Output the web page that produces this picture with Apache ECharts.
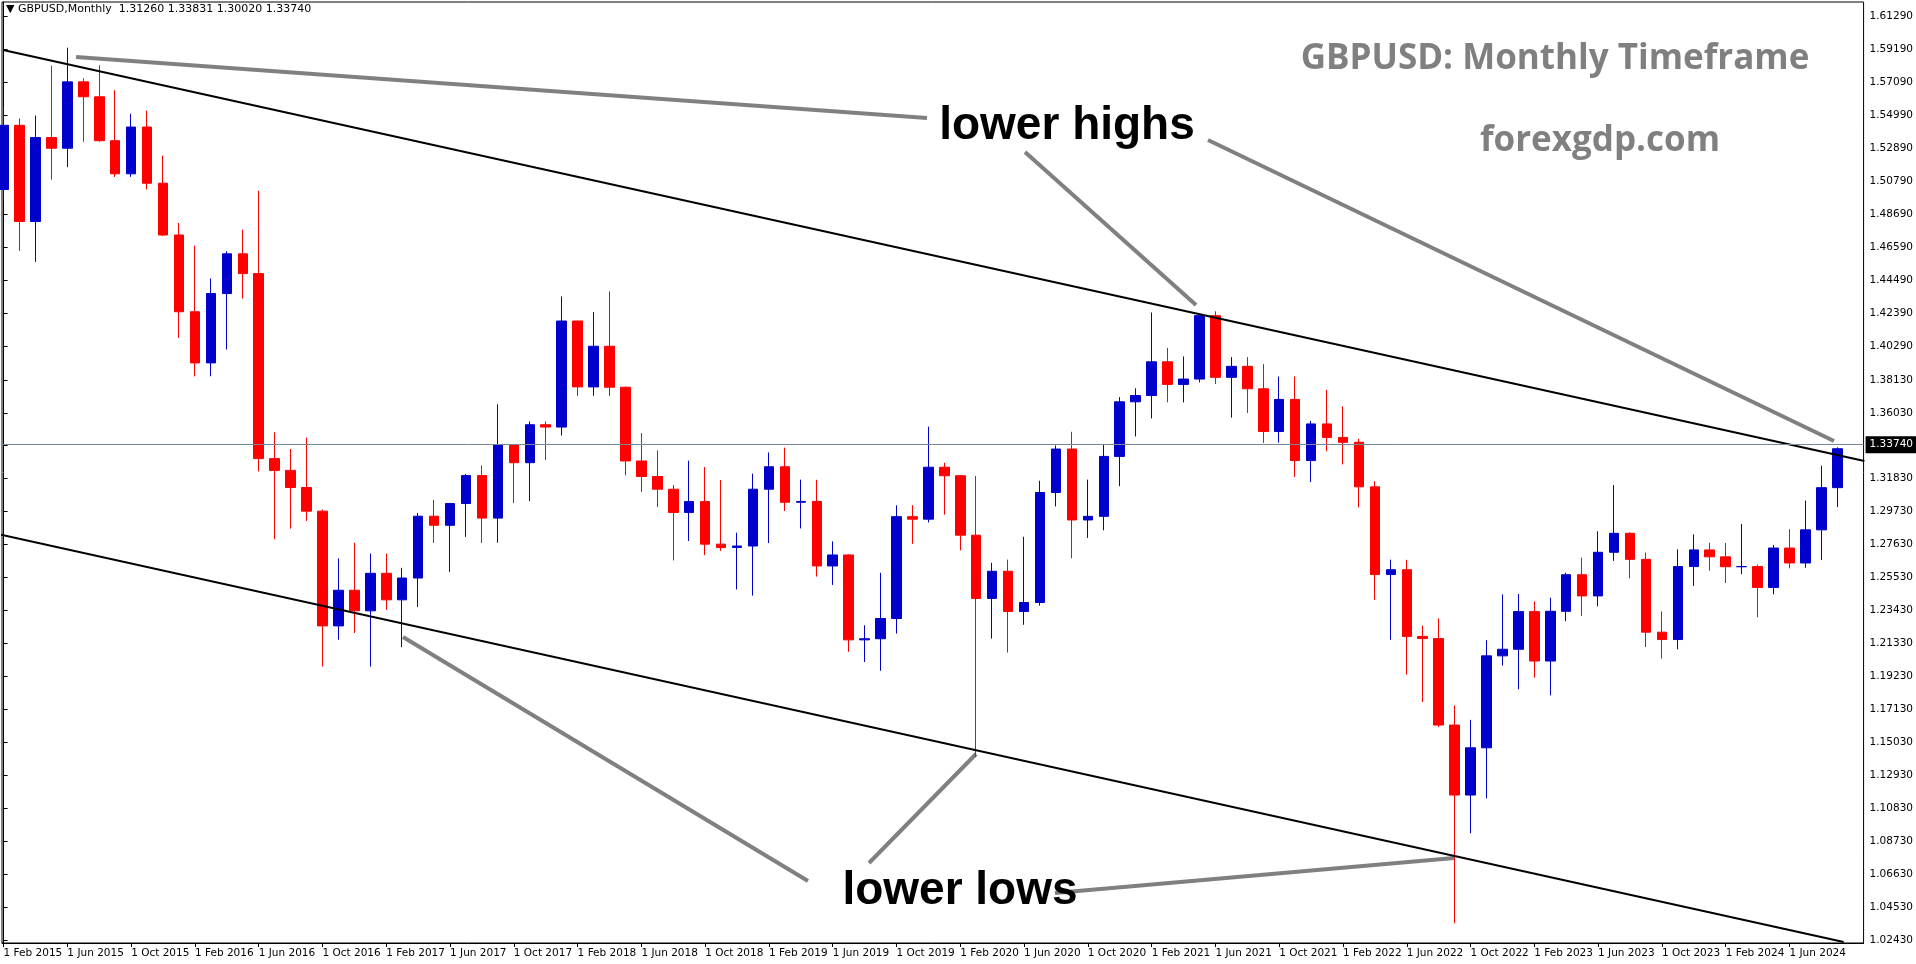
<!DOCTYPE html>
<html><head><meta charset="utf-8">
<script src="https://cdn.jsdelivr.net/npm/echarts@6/dist/echarts.min.js"></script>
<style>html,body{margin:0;padding:0;background:#fff}#c{width:1916px;height:964px}</style>
</head><body><div id="c"></div>
<script>
// Monthly GBPUSD candles Feb 2015 .. Sep 2024: [open, high, low, close]
const months = [];
(function(){const n=['Jan','Feb','Mar','Apr','May','Jun','Jul','Aug','Sep','Oct','Nov','Dec'];
 for(let k=0;k<116;k++){const m=(1+k)%12, y=2015+Math.floor((1+k)/12); months.push('1 '+n[m]+' '+y);}})();
const opens = [
1.5026,1.5435,1.4822,1.5357,1.5289,1.5712,1.5617,1.5337,1.5126,1.5424,1.5066,
1.4736,1.4247,1.3921,1.4363,1.4616,1.4490,1.3311,1.3236,1.3127,1.2976,1.2245,1.2472,
1.2341,1.2580,1.2411,1.2550,1.2944,1.2886,1.3025,1.3203,1.2932,1.3398,1.3285,1.3527,
1.3512,1.4188,1.3768,1.4027,1.3766,1.3296,1.3197,1.3116,1.2968,1.3037,1.2766,1.2745,
1.2754,1.3116,1.3259,1.3033,1.3038,1.2627,1.2697,1.2156,1.2163,1.2292,1.2941,1.2925,
1.3256,1.3202,1.2823,1.2420,1.2593,1.2337,1.2394,1.3095,1.3372,1.2920,1.2943,1.3325,
1.3673,1.3713,1.3928,1.3784,1.3818,1.4222,1.3829,1.3899,1.3756,1.3484,1.3688,1.3299,
1.3532,1.3446,1.3415,1.3131,1.2572,1.2603,1.2178,1.2164,1.1613,1.1167,1.1468,1.2054,
1.2096,1.2336,1.2021,1.2338,1.2571,1.2436,1.2714,1.2835,1.2669,1.2205,1.2158,1.2623,
1.2729,1.2685,1.2622,1.2623,1.2490,1.2741,1.2646,1.2857,1.3126];
const highs = [
1.5552,1.5479,1.5497,1.5815,1.5930,1.5735,1.5818,1.5659,1.5509,1.5529,1.5242,
1.4813,1.4668,1.4459,1.4632,1.4770,1.5018,1.3479,1.3372,1.3445,1.2986,1.2675,1.2775,
1.2706,1.2706,1.2615,1.2965,1.3048,1.3029,1.3213,1.3268,1.3657,1.3400,1.3548,1.3549,
1.4345,1.4190,1.4245,1.4377,1.3770,1.3473,1.3363,1.3143,1.3298,1.3257,1.3175,1.2839,
1.3215,1.3350,1.3381,1.3177,1.3176,1.2784,1.2700,1.2249,1.2583,1.3013,1.3014,1.3515,
1.3285,1.3206,1.3200,1.2647,1.2667,1.2813,1.3170,1.3395,1.3482,1.3177,1.3399,1.3703,
1.3759,1.4242,1.4017,1.3962,1.4233,1.4250,1.3958,1.3958,1.3913,1.3834,1.3835,1.3551,
1.3749,1.3644,1.3438,1.3167,1.2667,1.2666,1.2246,1.2293,1.1738,1.1646,1.2154,1.2446,
1.2448,1.2401,1.2424,1.2584,1.2680,1.2848,1.3142,1.2841,1.2713,1.2337,1.2733,1.2828,
1.2775,1.2773,1.2894,1.2635,1.2761,1.2861,1.3044,1.3266,1.3383];
const lows = [
1.4951,1.4635,1.4565,1.5089,1.5169,1.5330,1.5330,1.5106,1.5107,1.5027,1.4730,
1.4080,1.3835,1.3836,1.4006,1.4331,1.3229,1.2798,1.2865,1.2914,1.1986,1.2157,1.2200,
1.1986,1.2347,1.2109,1.2365,1.2773,1.2589,1.2812,1.2774,1.2775,1.3027,1.3040,1.3302,
1.3458,1.3711,1.3711,1.3711,1.3204,1.3099,1.3002,1.2662,1.2786,1.2696,1.2723,1.2477,
1.2438,1.2773,1.2977,1.2866,1.2559,1.2506,1.2080,1.2015,1.1959,1.2196,1.2768,1.2904,
1.2954,1.2726,1.1409,1.2164,1.2075,1.2252,1.2374,1.3006,1.2676,1.2806,1.2854,1.3135,
1.3452,1.3567,1.3670,1.3669,1.3797,1.3786,1.3572,1.3602,1.3411,1.3412,1.3194,1.3161,
1.3358,1.3274,1.3000,1.2411,1.2156,1.1934,1.1760,1.1600,1.0350,1.0924,1.1146,1.1992,
1.1841,1.1915,1.1802,1.2275,1.2308,1.2369,1.2659,1.2548,1.2110,1.2037,1.2096,1.2500,
1.2597,1.2518,1.2575,1.2300,1.2446,1.2612,1.2615,1.2665,1.3002];
const closes = [
1.5435,1.4822,1.5357,1.5289,1.5712,1.5617,1.5337,1.5126,1.5424,1.5066,1.4736,
1.4247,1.3921,1.4363,1.4616,1.4490,1.3311,1.3236,1.3127,1.2976,1.2245,1.2472,1.2341,
1.2580,1.2411,1.2550,1.2944,1.2886,1.3025,1.3203,1.2932,1.3398,1.3285,1.3527,1.3512,
1.4188,1.3768,1.4027,1.3766,1.3296,1.3197,1.3116,1.2968,1.3037,1.2766,1.2745,1.2754,
1.3116,1.3259,1.3033,1.3038,1.2627,1.2697,1.2156,1.2163,1.2292,1.2941,1.2925,1.3256,
1.3202,1.2823,1.2420,1.2593,1.2337,1.2394,1.3095,1.3372,1.2920,1.2943,1.3325,1.3673,
1.3713,1.3928,1.3784,1.3818,1.4222,1.3829,1.3899,1.3756,1.3484,1.3688,1.3299,1.3532,
1.3446,1.3415,1.3131,1.2572,1.2603,1.2178,1.2164,1.1613,1.1167,1.1468,1.2054,1.2096,
1.2336,1.2021,1.2338,1.2571,1.2436,1.2714,1.2835,1.2669,1.2205,1.2158,1.2623,1.2729,
1.2685,1.2622,1.2623,1.2490,1.2741,1.2646,1.2857,1.3126,1.3374];
const yTicks = [1.02430,1.04530,1.06630,1.08730,1.10830,1.12930,1.15030,1.17130,1.19230,1.21330,1.23430,1.25530,1.27630,1.29730,1.31830,1.33930,1.36030,1.38130,1.40290,1.42390,1.44490,1.46590,1.48690,1.50790,1.52890,1.54990,1.57090,1.59190,1.61290];
const xTicks = [];for(let k=0;k<=112;k+=4)xTicks.push(k);
const upperTrend = [[-0.03,1.5915],[116.7,1.3296]];
const lowerTrend = [[-0.16,1.2826],[115.4,1.0230]];
const lastPrice = 1.3374;

const up = [], dn = [];
for(let i=0;i<opens.length;i++){
  const row=[i,opens[i],closes[i],lows[i],highs[i]];
  (closes[i]>=opens[i]?up:dn).push(row);
}
const chart = echarts.init(document.getElementById('c'));
const F='"DejaVu Sans", sans-serif';
const annot = {type:'line',style:{stroke:'#808080',lineWidth:4}};
const trend = d => ({type:'line',data:d,showSymbol:false,symbol:'none',clip:true,silent:true,
  lineStyle:{color:'#000',width:2},z:3});
chart.setOption({
  animation:false, backgroundColor:'#fff',
  grid:{left:2,right:46,top:2,bottom:21,show:true,borderColor:'#000',borderWidth:1},
  xAxis:{type:'value',min:-0.1,max:116.65,splitLine:{show:false},
    axisLine:{lineStyle:{color:'#000'}},
    axisTick:{customValues:xTicks,length:4,lineStyle:{color:'#000'}},
    axisLabel:{customValues:xTicks,formatter:v=>months[Math.round(v)],align:'left',
      color:'#000',fontFamily:F,fontSize:10.5,margin:5}},
  yAxis:{type:'value',position:'right',min:1.0224,max:1.6221,scale:true,splitLine:{show:false},
    axisLine:{show:true,lineStyle:{color:'#000'}},
    axisTick:{customValues:yTicks,length:4,lineStyle:{color:'#000'}},
    axisLabel:{customValues:yTicks,formatter:v=>v.toFixed(5),color:'#000',fontFamily:F,fontSize:10.5,margin:6}},
  series:[
   trend(upperTrend), trend(lowerTrend),
   {type:'candlestick',data:up,barWidth:10,encode:{x:0,y:[1,2,3,4]},
    itemStyle:{color:'#0000CC',color0:'#0000CC',borderColor:'#0000CC',borderColor0:'#0000CC',borderWidth:1}},
   {type:'candlestick',data:dn,barWidth:10,encode:{x:0,y:[1,2,3,4]},
    itemStyle:{color:'#FF0000',color0:'#FF0000',borderColor:'#FF0000',borderColor0:'#FF0000',borderWidth:1},
    markLine:{silent:true,symbol:'none',animation:false,data:[{yAxis:lastPrice}],
      lineStyle:{color:'#778899',width:1,type:'solid'},
      label:{show:true,position:'end',formatter:lastPrice.toFixed(5),backgroundColor:'#000',color:'#fff',
        fontFamily:F,fontSize:10.5,padding:[3,4],distance:2}}}
  ],
  graphic:[
   {type:'text',left:6,top:4,style:{text:'▼ GBPUSD,Monthly  1.31260 1.33831 1.30020 1.33740',fill:'#000',font:'11px '+F}},
   Object.assign({shape:{x1:76,y1:57,x2:927,y2:118}},annot),
   Object.assign({shape:{x1:1025,y1:152,x2:1196,y2:305}},annot),
   Object.assign({shape:{x1:1208,y1:140,x2:1834,y2:441}},annot),
   Object.assign({shape:{x1:403,y1:637,x2:808,y2:881}},annot),
   Object.assign({shape:{x1:869,y1:863,x2:976,y2:754}},annot),
   Object.assign({shape:{x1:1055,y1:893,x2:1454,y2:858}},annot),
   {type:'text',x:1067,y:126,style:{text:'lower highs',fill:'#000',font:'bold 46px "Liberation Sans", Arial, sans-serif',align:'center',verticalAlign:'middle'}},
   {type:'text',x:960,y:891,style:{text:'lower lows',fill:'#000',font:'bold 46px "Liberation Sans", Arial, sans-serif',align:'center',verticalAlign:'middle'}},
   {type:'text',x:1555,y:59,style:{text:'GBPUSD: Monthly Timeframe',fill:'#808080',font:'bold 35px "Open Sans", "DejaVu Sans", sans-serif',align:'center',verticalAlign:'middle'}},
   {type:'text',x:1600,y:141,style:{text:'forexgdp.com',fill:'#808080',font:'bold 35px "Open Sans", "DejaVu Sans", sans-serif',align:'center',verticalAlign:'middle'}}
  ]
});
</script></body></html>
